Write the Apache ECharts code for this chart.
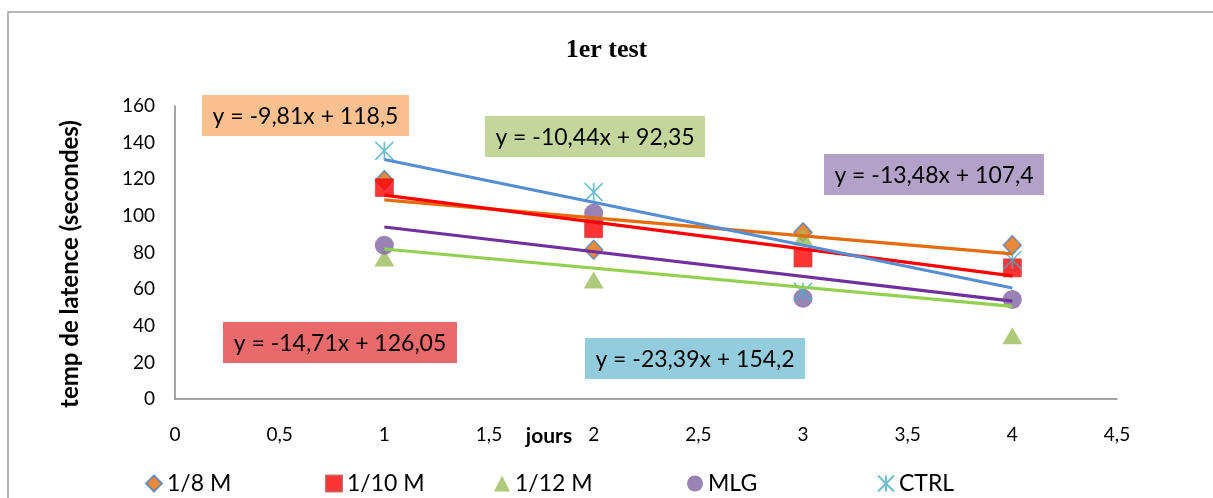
<!DOCTYPE html>
<html>
<head>
<meta charset="utf-8">
<script src="https://cdn.jsdelivr.net/npm/echarts@6/dist/echarts.min.js"></script>
<style>
  html, body { margin: 0; padding: 0; background: #fff; }
  #chart { width: 1213px; height: 498px; }
</style>
</head>
<body>
<div id="chart"></div>
<script>
// Days of measurement
const days = [1, 2, 3, 4];

// Latency times (seconds) per group
const seriesNames = ['1/8 M', '1/10 M', '1/12 M', 'MLG', 'CTRL'];
const v18   = [119.5, 81.5, 91, 84];
const v110  = [115.5, 93, 77, 71.6];
const v112  = [77, 65, 88.5, 34.5];
const vMLG  = [84, 101.5, 55, 54.3];
const vCTRL = [135.5, 113, 58.5, 75.9];

// Linear trend coefficients (y = slope * x + intercept)
const slopes     = [-9.81, -14.71, -10.44, -13.48, -23.39];
const intercepts = [118.5, 126.05, 92.35, 107.4, 154.2];

const values = [v18, v110, v112, vMLG, vCTRL];

// Styling
const FONT = 'Lato, "Noto Sans", sans-serif';
const trendColors = ['#E46C0A', '#FF0000', '#92D050', '#7030A0', '#558ED5'];
const markerStyles = [
  { symbol: 'diamond', size: [18, 19], item: { color: '#E46C0A', borderColor: '#4F81BD', borderWidth: 1.5 } },
  { symbol: 'rect', size: 18, item: { color: '#FF0000', borderColor: '#C0504D', borderWidth: 1 } },
  { symbol: 'triangle', size: [20, 17], item: { color: '#9BBB59' } },
  { symbol: 'circle', size: 19, item: { color: '#8064A2' } },
  { symbol: 'path://M0,0L20,20M20,0L0,20M10,0L10,20', size: 18,
    item: { color: 'rgba(0,0,0,0)', borderColor: '#4BACC6', borderWidth: 1.6 } }
];
// Equation boxes: [x, y, w, h, fill], in series order
const boxLayout = [
  [202, 95, 207, 41, '#FAC090'],
  [223, 322, 234, 41, '#E96A6A'],
  [485, 116, 220, 41, '#C3D69B'],
  [824, 154, 220, 41, '#B3A2C7'],
  [585, 338, 220, 41, '#93CDDD']
];
const legendLeft = [140, 320, 489, 682, 872];

const fmt = (v) => String(v).replace('.', ',');

const series = [];
seriesNames.forEach((name, i) => {
  series.push({
    name: name,
    type: 'scatter',
    symbol: markerStyles[i].symbol,
    symbolSize: markerStyles[i].size,
    itemStyle: markerStyles[i].item,
    z: 2,
    data: days.map((d, k) => [d, values[i][k]])
  });
});
seriesNames.forEach((name, i) => {
  const x0 = days[0], x1 = days[days.length - 1];
  series.push({
    name: 'trend ' + name,
    type: 'line',
    showSymbol: false,
    symbol: 'none',
    silent: true,
    z: 3,
    lineStyle: { color: trendColors[i], width: 3.2 },
    data: [[x0, slopes[i] * x0 + intercepts[i]], [x1, slopes[i] * x1 + intercepts[i]]]
  });
});

const graphics = [
  { type: 'rect', shape: { x: 8, y: 12, width: 1400, height: 700 },
    style: { fill: 'none', stroke: '#A0A0A0', lineWidth: 1.5 }, z: 0, silent: true },
  { type: 'text', x: 70, y: 264, rotation: Math.PI / 2,
    style: { text: 'temp de latence (secondes)', font: 'bold 24px ' + FONT, fill: '#000',
             textAlign: 'center', textVerticalAlign: 'middle' } },
  { type: 'text', x: 549, y: 436,
    style: { text: 'jours', font: 'bold 21px ' + FONT, fill: '#000',
             textAlign: 'center', textVerticalAlign: 'middle' } }
];
boxLayout.forEach((b, i) => {
  graphics.push({ type: 'rect', shape: { x: b[0], y: b[1], width: b[2], height: b[3] },
    style: { fill: b[4] }, z: 10 });
  graphics.push({ type: 'text', x: b[0] + b[2] / 2, y: b[1] + b[3] / 2 + 1, z: 11,
    style: { text: 'y = ' + fmt(slopes[i]) + 'x + ' + fmt(intercepts[i]),
             font: '23px ' + FONT, fill: '#000', textAlign: 'center', textVerticalAlign: 'middle' } });
});

const chart = echarts.init(document.getElementById('chart'), null, { renderer: 'canvas' });
chart.setOption({
  animation: false,
  backgroundColor: '#fff',
  title: {
    text: '1er test', left: 'center', top: 32,
    textStyle: { fontFamily: '"Liberation Serif", "DejaVu Serif", serif', fontWeight: 'bold', fontSize: 26, color: '#000' }
  },
  grid: { left: 175, right: 96, top: 106, bottom: 99 },
  xAxis: {
    type: 'value', min: 0, max: 4.5, interval: 0.5,
    axisLine: { show: true, lineStyle: { color: '#868686', width: 1.5 } },
    axisTick: { show: false },
    splitLine: { show: false },
    axisLabel: { margin: 26, fontFamily: FONT, fontSize: 19, color: '#000', formatter: fmt }
  },
  yAxis: {
    type: 'value', min: 0, max: 160, interval: 20,
    axisLine: { show: true, lineStyle: { color: '#868686', width: 1.5 } },
    axisTick: { show: false },
    splitLine: { show: false },
    axisLabel: { margin: 20, fontFamily: FONT, fontSize: 19, color: '#000' }
  },
  legend: seriesNames.map((n, i) => ({
    data: [n], left: legendLeft[i], top: 467, itemWidth: 16, itemHeight: 16, itemGap: 0,
    selectedMode: false,
    textStyle: { fontFamily: FONT, fontSize: 23, color: '#000' }
  })),
  series: series,
  graphic: graphics
});
</script>
</body>
</html>
